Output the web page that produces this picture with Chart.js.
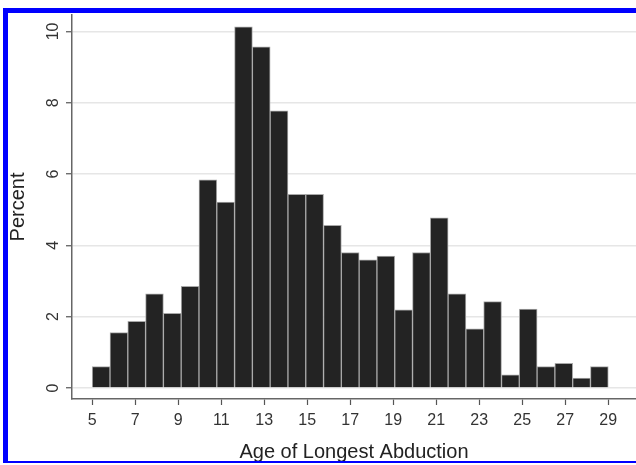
<!DOCTYPE html>
<html>
<head>
<meta charset="utf-8">
<script src="https://cdn.jsdelivr.net/npm/chart.js@4.4.1/dist/chart.umd.min.js"></script>
<style>
  body { margin: 0; background: #fff; }
  #wrap { position: relative; width: 636px; height: 465px; overflow: hidden; }
  #frame {
    position: absolute; left: 3px; top: 8px; width: 700px; height: 455px;
    box-sizing: border-box; border-left: 5px solid #0000ff; border-top: 5px solid #0000ff;
    border-bottom: 2px solid #0000ff; pointer-events: none;
  }
</style>
</head>
<body>
<div id="wrap">
  <canvas id="hist"></canvas>
  <div id="frame"></div>
</div>
<script>
// histogram of age of longest abduction, 29 bins between 5 and 29
const binStart = 5;
const binEnd = 29;
const percent = [0.60, 1.55, 1.87, 2.64, 2.09, 2.85, 5.84, 5.21, 10.13, 9.57,
                 7.77, 5.43, 5.43, 4.56, 3.80, 3.59, 3.70, 2.19, 3.80, 4.77,
                 2.64, 1.66, 2.42, 0.37, 2.21, 0.60, 0.69, 0.28, 0.60];
const xTicks = [5, 7, 9, 11, 13, 15, 17, 19, 21, 23, 25, 27, 29];
const yTicks = [0, 2, 4, 6, 8, 10];

const binWidth = (binEnd - binStart) / percent.length;
const bars = percent.map((v, i) => ({ x: binStart + (i + 0.5) * binWidth, y: v }));

const canvas = document.getElementById('hist');
const grafico = new Chart(canvas, {
  type: 'bar',
  data: {
    datasets: [
      {
        label: 'Percent',
        data: bars,
        backgroundColor: '#232323',
        borderColor: '#a8a8a8',
        borderWidth: 1,
        borderSkipped: 'bottom',
        barPercentage: 1,
        categoryPercentage: 1,
      },
    ]
  },
  options: {
    responsive: true,
    maintainAspectRatio: false,
    animation: false,
    layout: { padding: { top: 15, left: 0, right: 0, bottom: 0 } },
    plugins: { legend: { display: false }, tooltip: { enabled: false } },
    scales: {
      x: {
        type: 'linear',
        offset: false,
        min: 4.06,
        max: 30.29,
        afterBuildTicks: axis => { axis.ticks = xTicks.map(v => ({ value: v })); },
        afterFit: axis => { axis.height = 66; },
        grid: { offset: false, drawOnChartArea: false, drawTicks: true, tickLength: 6, tickColor: '#555', tickWidth: 1.2 },
        border: { color: '#666', width: 1.5 },
        ticks: { color: '#333', padding: 6, maxRotation: 0, autoSkip: false,
                 font: { family: 'Liberation Sans', size: 16 } },
        title: { display: true, text: 'Age of Longest Abduction', color: '#222',
                 font: { family: 'Liberation Sans', size: 20, lineHeight: 1 },
                 padding: { top: 0, bottom: 3 } }
      },
      y: {
        min: -0.31,
        max: 10.46,
        afterBuildTicks: axis => { axis.ticks = yTicks.map(v => ({ value: v })); },
        afterFit: axis => { axis.width = 72; },
        grid: { color: '#e6e6e6', lineWidth: 1.5, tickLength: 6, tickColor: '#555', tickWidth: 1.2 },
        border: { color: '#666', width: 1.5 },
        ticks: { color: '#333', padding: 4, minRotation: 90, maxRotation: 90, crossAlign: 'center',
                 font: { family: 'Liberation Sans', size: 16 } },
        title: { display: true, text: 'Percent', color: '#222',
                 font: { family: 'Liberation Sans', size: 20, lineHeight: 1 },
                 padding: { top: 8, bottom: 0 } }
      }
    }
  }
});
</script>
</body>
</html>
